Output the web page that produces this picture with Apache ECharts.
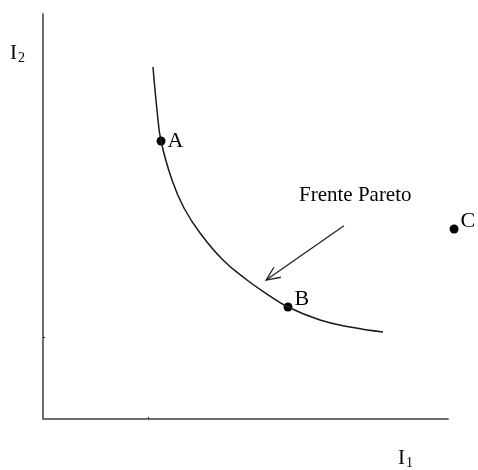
<!DOCTYPE html>
<html>
<head>
<meta charset="utf-8">
<script src="https://cdn.jsdelivr.net/npm/echarts@6/dist/echarts.min.js"></script>
<style>html,body{margin:0;padding:0;background:#fff}#c{width:478px;height:470px}</style>
</head>
<body>
<div id="c"></div>
<script>
// Pareto front curve (I1, I2)
var frontI1 = [2.716, 2.815, 2.914, 3.185, 3.481, 3.877, 4.444, 5.037, 5.531, 6.049, 6.840, 7.580, 8.395];
var frontI2 = [8.691, 7.630, 6.864, 5.901, 5.210, 4.593, 3.926, 3.432, 3.086, 2.765, 2.444, 2.272, 2.148];
// labelled points
var pointNames = ['A', 'B', 'C'];
var pointI1 = [2.914, 6.049, 10.15];
var pointI2 = [6.864, 2.765, 4.69];
// arrow annotation: from [start] to [tip]
var arrowStart = [7.43, 4.77];
var arrowTip = [5.51, 3.43];
var arrowText = 'Frente Pareto';
var arrowTextAt = [7.71, 5.51];
// axis ticks
var xTicks = [2.59];
var yTicks = [2.02];
var xAxisName = ['I', '1'];
var yAxisName = ['I', '2'];

var serif = 'Liberation Serif, Times New Roman, serif';
var chart = echarts.init(document.getElementById('c'));

var frontData = frontI1.map(function (x, i) { return [x, frontI2[i]]; });
var pointData = pointNames.map(function (n, i) {
  var item = { name: n, value: [pointI1[i], pointI2[i]] };
  if (n !== 'A') item.label = { offset: [0, -8] };
  return item;
});

chart.setOption({
  animation: false,
  grid: { left: 43, top: 14, width: 405, height: 405 },
  xAxis: {
    type: 'value', min: 0, max: 10,
    axisLine: { show: true, lineStyle: { color: '#6f6f6f', width: 2 } },
    axisTick: { show: true, inside: true, length: 2, customValues: xTicks, lineStyle: { color: '#222', width: 1 } },
    axisLabel: { show: false },
    splitLine: { show: false }
  },
  yAxis: {
    type: 'value', min: 0, max: 10,
    axisLine: { show: true, lineStyle: { color: '#6f6f6f', width: 2 } },
    axisTick: { show: true, inside: true, length: 2, customValues: yTicks, lineStyle: { color: '#222', width: 1 } },
    axisLabel: { show: false },
    splitLine: { show: false }
  },
  graphic: [
    { type: 'text', left: 10, top: 43, style: { text: yAxisName[0], font: '21px ' + serif, fill: '#000' } },
    { type: 'text', left: 18, top: 51, style: { text: yAxisName[1], font: '14px ' + serif, fill: '#000' } },
    { type: 'text', left: 398, top: 448, style: { text: xAxisName[0], font: '21px ' + serif, fill: '#000' } },
    { type: 'text', left: 406, top: 456, style: { text: xAxisName[1], font: '14px ' + serif, fill: '#000' } }
  ],
  series: [
    {
      type: 'line', data: frontData, smooth: 0.45, showSymbol: false,
      lineStyle: { color: '#1a1a1a', width: 1.5 }
    },
    {
      type: 'scatter', data: pointData, symbolSize: 9, clip: false,
      itemStyle: { color: '#000', opacity: 1 },
      label: { show: true, position: 'right', distance: 2, formatter: '{b}', fontFamily: serif, fontSize: 22, color: '#000', opacity: 1 }
    },
    {
      type: 'custom', clip: false,
      data: [[arrowStart[0], arrowStart[1], arrowTip[0], arrowTip[1]]],
      renderItem: function (params, api) {
        var s = api.coord([api.value(0), api.value(1)]);
        var t = api.coord([api.value(2), api.value(3)]);
        var ang = Math.atan2(s[1] - t[1], s[0] - t[0]);
        var L = 15, spread = 0.42;
        var p1 = [t[0] + L * Math.cos(ang + spread), t[1] + L * Math.sin(ang + spread)];
        var p2 = [t[0] + L * Math.cos(ang - spread), t[1] + L * Math.sin(ang - spread)];
        var tp = api.coord(arrowTextAt);
        return {
          type: 'group', children: [
            { type: 'line', shape: { x1: s[0], y1: s[1], x2: t[0], y2: t[1] }, style: { stroke: '#222', lineWidth: 1.3 } },
            { type: 'polyline', shape: { points: [p1, t, p2] }, style: { stroke: '#222', lineWidth: 1.3, fill: null } },
            { type: 'text', x: tp[0], y: tp[1], style: { text: arrowText, font: '21px ' + serif, fill: '#000', align: 'center', verticalAlign: 'middle' } }
          ]
        };
      }
    }
  ]
});
</script>
</body>
</html>
